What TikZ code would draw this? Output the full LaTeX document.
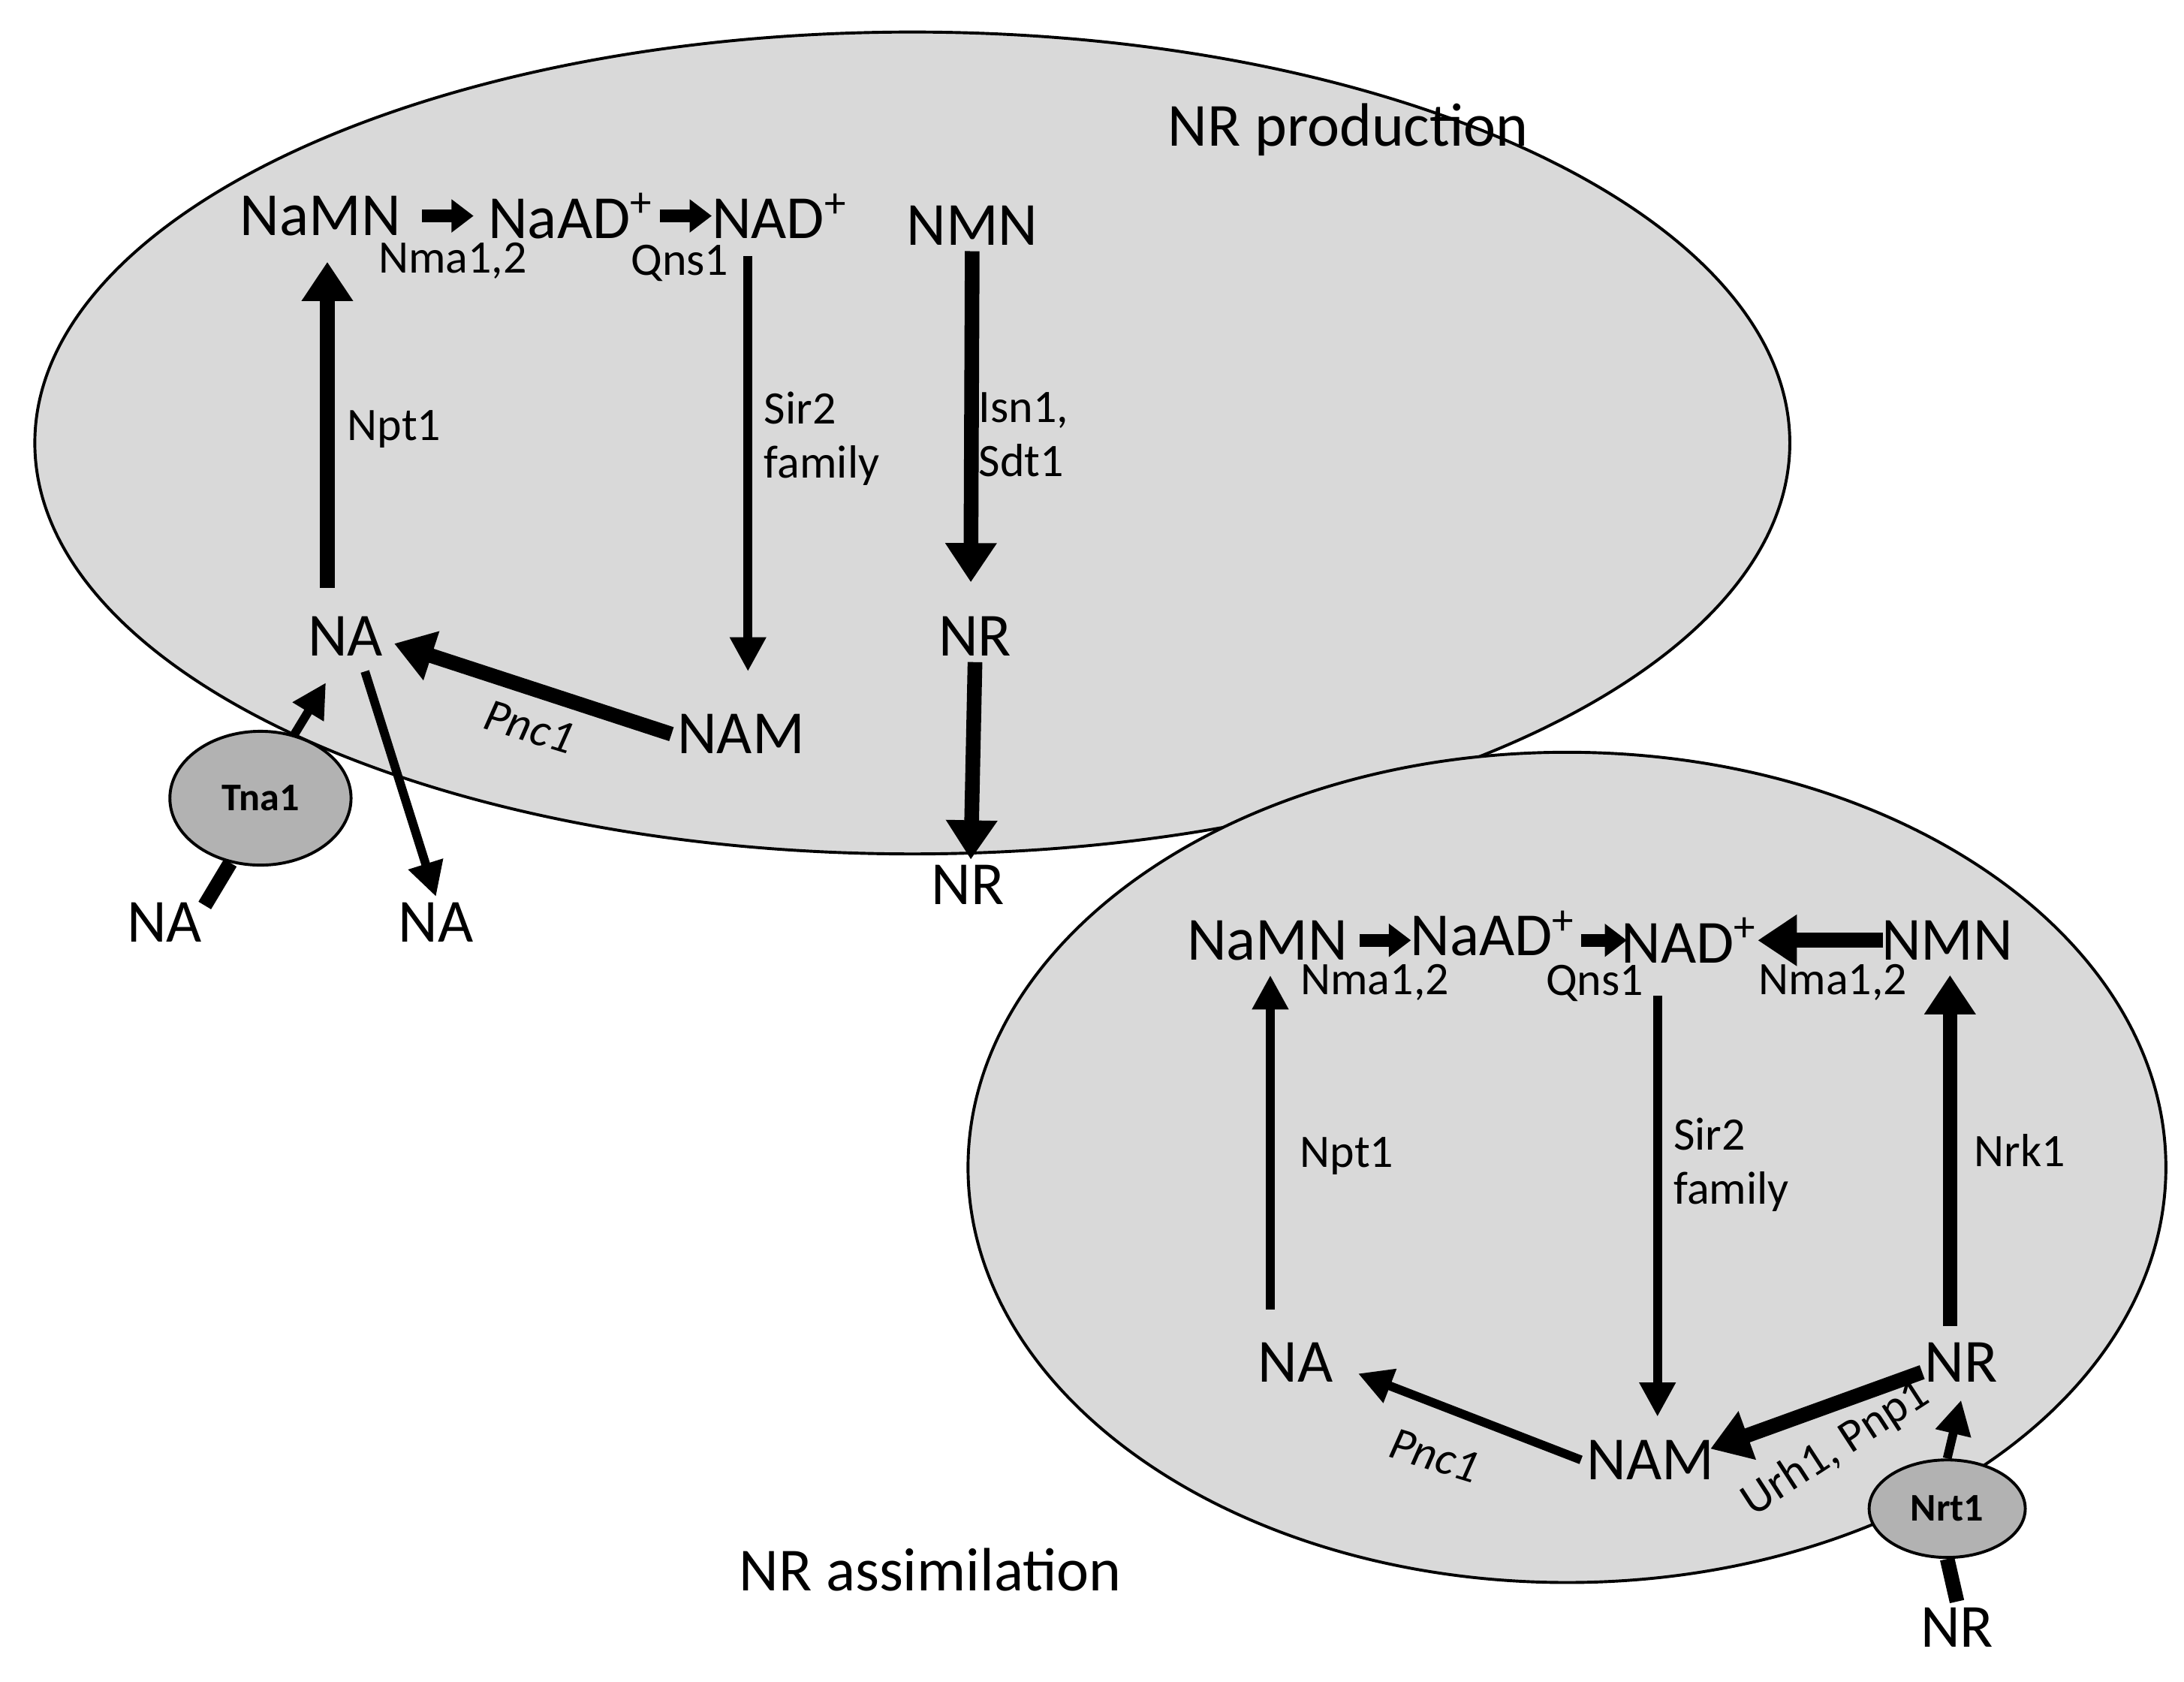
\documentclass[tikz,border=0pt]{standalone}
\usepackage{fontspec}
\setmainfont{Carlito}
\usetikzlibrary{arrows.meta,shapes.geometric}
\begin{document}
\begin{tikzpicture}[x=0.01cm,y=-0.01cm,
  big/.style={font=\fontsize{12.5}{15}\selectfont,inner sep=1pt},
  sm/.style={font=\fontsize{9.5}{11}\selectfont,inner sep=1pt,align=left},
  cell/.style={fill=gray!30,draw=black,line width=0.6pt},
  thick arr/.style={line width=3pt,-{Triangle[length=8pt,width=10pt]}},
  thin arr/.style={line width=1.8pt,-{Triangle[length=7pt,width=7pt]}},
  short arr/.style={line width=2.6pt,-{Triangle[length=4.5pt,width=6.5pt]}},
  port/.style={ellipse,fill=gray!60,draw=black,line width=0.6pt,inner sep=0pt,font=\fontsize{8}{9}\selectfont\bfseries}]
\useasboundingbox (0,0) rectangle (1568,1207);
% cell 1
\draw[cell] (655,318) ellipse [x radius=630,y radius=295];
\node[port,minimum width=1.3cm,minimum height=0.96cm] (t1) at (187,573) {Tna1};
\node[big] (a1) at (230,155) {NaMN};
\node[big] (b1) at (410,155) {NaAD\textsuperscript{+}};
\node[big] (c1) at (560,155) {NAD\textsuperscript{+}};
\node[big] (d1) at (698,162) {NMN};
\node[big] (e1) at (248,457) {NA};
\node[big] (f1) at (532,527) {NAM};
\node[big] (g1) at (700,457) {NR};
\node[big] (h1) at (695,635) {NR};
\node[big] (i1) at (118,662) {NA};
\node[big] (j1) at (313,662) {NA};
\node[sm] at (325,187) {Nma1,2};
\node[sm] at (488,189) {Qns1};
\node[sm] at (283,308) {Npt1};
\node[sm] at (590,315) {Sir2\\family};
\node[sm] at (735,312) {Isn1,\\Sdt1};
\node[sm,rotate=-17] at (380,522) {\itshape Pnc1};
\node[big] at (968,93) {NR production};
\draw[short arr] (303,155) -- (340,155);
\draw[short arr] (474,155) -- (511,155);
\draw[thick arr] (235,422) -- (235,188);
\draw[thin arr] (537,184) -- (537,482);
\draw[thick arr] (d1.south) -- (697,418);
\draw[thick arr] (g1.south) -- (697,617);
\draw[thick arr] (f1.west) -- (283,462);
\draw[thin arr] (t1.62) -- (234,490);
\draw[thin arr] (262,482) -- (j1.north);
\draw[line width=3pt] (147,650) -- (t1.245);
% cell 2
\draw[cell] (1125,838) ellipse [x radius=430,y radius=298];
\node[port,minimum width=1.12cm,minimum height=0.7cm] (t2) at (1398,1083) {Nrt1};
\node[big] (a2) at (910,675) {NaMN};
\node[big] (b2) at (1072,670) {NaAD\textsuperscript{+}};
\node[big] (c2) at (1213,675) {NAD\textsuperscript{+}};
\node[big] (d2) at (1398,675) {NMN};
\node[big] (e2) at (930,978) {NA};
\node[big] (f2) at (1185,1048) {NAM};
\node[big] (g2) at (1408,978) {NR};
\node[big] (h2) at (1405,1168) {NR};
\node[sm] at (987,705) {Nma1,2};
\node[sm] at (1145,706) {Qns1};
\node[sm] at (1316,705) {Nma1,2};
\node[sm] at (967,830) {Npt1};
\node[sm] at (1243,836) {Sir2\\family};
\node[sm] at (1450,826) {Nrk1};
\node[sm,rotate=-17] at (1030,1045) {\itshape Pnc1};
\node[sm,rotate=33] at (1318,1040) {Urh1, Pnp1};
\node[big] at (668,1127) {NR assimilation};
\draw[short arr] (976,675) -- (1013,675);
\draw[short arr] (1135,675) -- (1168,675);
\draw[thick arr] (1352,675) -- (1262,675);
\draw[thin arr] (912,940) -- (912,700);
\draw[thin arr] (1190,715) -- (1190,1017);
\draw[thick arr] (1400,952) -- (1400,700);
\draw[thick arr] (1380,985) -- (1228,1040);
\draw[thin arr] (f2.west) -- (975,986);
\draw[thin arr] (t2.north) -- (1408,1005);
\draw[line width=3pt] (h2.north) -- (t2.south);
\end{tikzpicture}
\end{document}
